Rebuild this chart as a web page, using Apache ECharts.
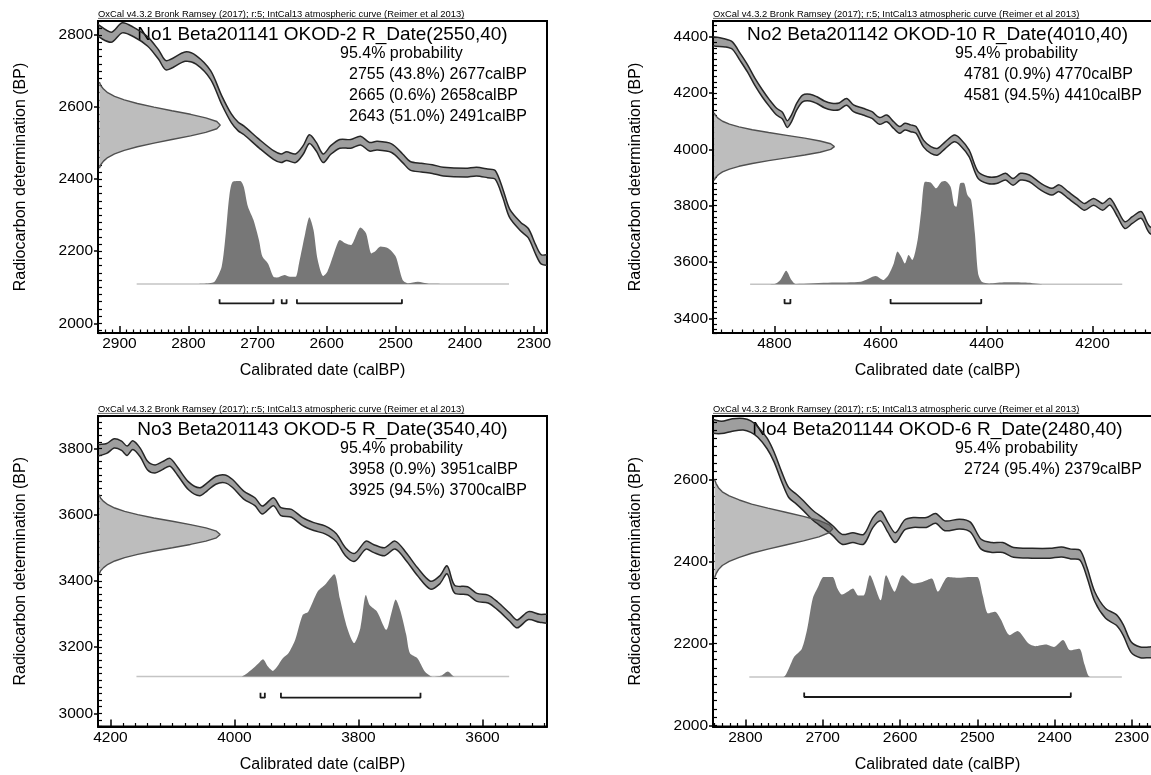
<!DOCTYPE html>
<html><head><meta charset="utf-8">
<script src="https://cdn.jsdelivr.net/npm/echarts@6/dist/echarts.min.js"></script>
<style>html,body{margin:0;padding:0;background:#fff}#main{width:1151px;height:775px}</style>
</head><body><div id="main"></div>
<script>
// ---------------- texts ----------------
const headerText = 'OxCal v4.3.2 Bronk Ramsey (2017); r:5; IntCal13 atmospheric curve (Reimer et al 2013)';
const titles = ['No1 Beta201141 OKOD-2 R_Date(2550,40)', 'No2 Beta201142 OKOD-10 R_Date(4010,40)',
                'No3 Beta201143 OKOD-5 R_Date(3540,40)', 'No4 Beta201144 OKOD-6 R_Date(2480,40)'];
const probLabel = '95.4% probability';
const xTitle = 'Calibrated date (calBP)';
const yTitle = 'Radiocarbon determination (BP)';

// ---------------- tick labels ----------------
const xTicks1 = [2300, 2400, 2500, 2600, 2700, 2800, 2900];
const yTicks1 = [2000, 2200, 2400, 2600, 2800];
const xTicks2 = [4200, 4400, 4600, 4800];
const yTicks2 = [3400, 3600, 3800, 4000, 4200, 4400];
const xTicks3 = [3600, 3800, 4000, 4200];
const yTicks3 = [3000, 3200, 3400, 3600, 3800];
const xTicks4 = [2300, 2400, 2500, 2600, 2700, 2800];
const yTicks4 = [2000, 2200, 2400, 2600];

// ---------------- panel 1 ----------------
const cal1 = [2936, 2912, 2896, 2880, 2859, 2843, 2832, 2805, 2789, 2768, 2752, 2738, 2728, 2720, 2698, 2677, 2666, 2658, 2645, 2634, 2625, 2615, 2605, 2594, 2581, 2565, 2551, 2538, 2527, 2506, 2490, 2479, 2463, 2447, 2431, 2399, 2383, 2367, 2356, 2345, 2335, 2319, 2308, 2297, 2289, 2276];
const c14_1 = [2820, 2794, 2820, 2809, 2782, 2745, 2716, 2740, 2731, 2689, 2620, 2569, 2546, 2536, 2499, 2467, 2458, 2464, 2458, 2481, 2511, 2490, 2458, 2481, 2498, 2498, 2507, 2490, 2493, 2486, 2458, 2437, 2432, 2428, 2421, 2418, 2421, 2416, 2412, 2361, 2305, 2268, 2250, 2203, 2177, 2177];
const sig1 = [14, 14, 14, 13, 13, 13, 13, 13, 12, 12, 12, 12, 12, 12, 12, 12, 12, 12, 12, 12, 12, 12, 12, 12, 12, 12, 12, 12, 12, 12, 12, 12, 12, 12, 12, 12, 12, 12, 12, 12, 12, 12, 13, 13, 13, 13];
const gBP1 = [2430, 2440, 2450, 2460, 2470, 2480, 2490, 2500, 2510, 2520, 2530, 2540, 2550, 2560, 2570, 2580, 2590, 2600, 2610, 2620, 2630, 2640, 2650, 2660, 2670];
const gCal1 = [2929, 2927, 2923, 2917, 2907, 2893, 2874, 2850, 2824, 2797, 2775, 2759, 2754, 2759, 2775, 2797, 2824, 2850, 2874, 2893, 2907, 2917, 2923, 2927, 2929];
const post1Cal = [2875, 2790, 2770, 2762, 2752, 2746, 2741, 2736, 2725, 2720, 2714, 2706, 2698, 2693, 2685, 2677, 2672, 2661, 2653, 2645, 2640, 2631, 2625, 2619, 2613, 2605, 2599, 2591, 2586, 2581, 2573, 2565, 2551, 2543, 2535, 2530, 2522, 2511, 2500, 2490, 2482, 2468, 2452, 2336];
const post1BP = [2109, 2109, 2111, 2116, 2157, 2250, 2351, 2393, 2395, 2379, 2324, 2287, 2231, 2185, 2166, 2129, 2127, 2134, 2129, 2129, 2166, 2250, 2294, 2259, 2176, 2131, 2143, 2185, 2213, 2231, 2222, 2217, 2266, 2250, 2194, 2199, 2213, 2208, 2185, 2120, 2111, 2115, 2110, 2109];
const base1 = [2875, 2336];
const baseBP1 = 2109;
const ranges1 = [[2755, 2677], [2665, 2658], [2643, 2491]];
const pct1 = ['43.8', '0.6', '51.0'];
const bracket1 = [2055, 2067];

// ---------------- panel 2 ----------------
const cal2 = [4920, 4893, 4879, 4865, 4851, 4837, 4823, 4809, 4796, 4785, 4776, 4768, 4758, 4747, 4733, 4720, 4706, 4692, 4678, 4664, 4651, 4633, 4616, 4602, 4588, 4575, 4564, 4554, 4543, 4533, 4519, 4505, 4492, 4478, 4461, 4450, 4433, 4416, 4398, 4381, 4364, 4350, 4336, 4319, 4298, 4277, 4263, 4246, 4229, 4215, 4198, 4181, 4167, 4153, 4139, 4125, 4108, 4092, 4065];
const c14_2 = [4385, 4378, 4368, 4329, 4288, 4240, 4199, 4163, 4134, 4120, 4090, 4110, 4152, 4181, 4184, 4175, 4160, 4152, 4153, 4169, 4146, 4134, 4122, 4101, 4110, 4086, 4069, 4081, 4075, 4069, 4021, 3998, 3992, 4015, 4039, 4027, 3986, 3909, 3891, 3891, 3903, 3885, 3903, 3897, 3868, 3850, 3862, 3838, 3814, 3796, 3814, 3796, 3814, 3773, 3731, 3749, 3767, 3714, 3700];
const sig2 = [14, 14, 13, 13, 13, 13, 13, 12, 12, 12, 12, 12, 12, 12, 12, 12, 12, 12, 12, 12, 12, 12, 12, 12, 12, 12, 12, 12, 12, 12, 12, 12, 12, 12, 12, 12, 12, 12, 12, 12, 12, 12, 12, 12, 12, 12, 12, 12, 12, 12, 12, 12, 12, 12, 12, 12, 12, 12, 12];
const gBP2 = [3890, 3900, 3910, 3920, 3930, 3940, 3950, 3960, 3970, 3980, 3990, 4000, 4010, 4020, 4030, 4040, 4050, 4060, 4070, 4080, 4090, 4100, 4110, 4120, 4130];
const gCal2 = [4914, 4911, 4906, 4898, 4885, 4867, 4842, 4811, 4777, 4743, 4714, 4694, 4687, 4694, 4714, 4743, 4777, 4811, 4842, 4867, 4885, 4898, 4906, 4911, 4914];
const post2Cal = [4846, 4800, 4789, 4778, 4768, 4760, 4692, 4637, 4609, 4595, 4585, 4575, 4568, 4561, 4554, 4547, 4540, 4530, 4523, 4516, 4505, 4495, 4485, 4478, 4468, 4461, 4457, 4450, 4443, 4436, 4429, 4422, 4416, 4409, 4395, 4364, 4326, 4290, 4144];
const post2BP = [3521, 3522, 3536, 3569, 3536, 3522, 3527, 3530, 3550, 3536, 3554, 3595, 3637, 3619, 3595, 3625, 3607, 3678, 3785, 3885, 3882, 3862, 3885, 3888, 3868, 3802, 3796, 3879, 3882, 3838, 3820, 3702, 3560, 3530, 3524, 3528, 3527, 3521, 3521];
const base2 = [4846, 4144];
const baseBP2 = 3521;
const ranges2 = [[4781, 4770], [4581, 4410]];
const pct2 = ['0.9', '94.5'];
const bracket2 = [3453, 3469];

// ---------------- panel 3 ----------------
const cal3 = [4224, 4206, 4194, 4182, 4173, 4164, 4152, 4140, 4128, 4116, 4104, 4092, 4074, 4056, 4044, 4030, 4015, 4003, 3985, 3967, 3955, 3937, 3925, 3908, 3890, 3872, 3854, 3836, 3821, 3806, 3788, 3776, 3758, 3741, 3723, 3705, 3684, 3669, 3657, 3645, 3624, 3609, 3591, 3576, 3556, 3544, 3526, 3508, 3490];
const c14_3 = [3793, 3800, 3815, 3808, 3793, 3810, 3788, 3748, 3738, 3748, 3758, 3732, 3687, 3669, 3684, 3704, 3708, 3694, 3659, 3639, 3614, 3639, 3609, 3604, 3579, 3564, 3554, 3531, 3488, 3471, 3508, 3498, 3488, 3508, 3473, 3428, 3387, 3403, 3433, 3375, 3370, 3350, 3345, 3325, 3290, 3270, 3295, 3287, 3285];
const sig3 = [15, 15, 14, 14, 14, 13, 13, 13, 12, 12, 12, 12, 12, 12, 12, 12, 12, 12, 12, 12, 12, 12, 12, 12, 12, 12, 12, 12, 12, 12, 12, 12, 12, 12, 12, 12, 12, 12, 12, 12, 12, 12, 12, 12, 12, 12, 12, 12, 12];
const gBP3 = [3420, 3430, 3440, 3450, 3460, 3470, 3480, 3490, 3500, 3510, 3520, 3530, 3540, 3550, 3560, 3570, 3580, 3590, 3600, 3610, 3620, 3630, 3640, 3650, 3660];
const gCal3 = [4218, 4216, 4211, 4204, 4193, 4177, 4156, 4130, 4100, 4071, 4046, 4029, 4023, 4029, 4046, 4071, 4100, 4130, 4156, 4177, 4193, 4204, 4211, 4216, 4218];
const post3Cal = [4158, 3990, 3973, 3961, 3954, 3946, 3938, 3931, 3922, 3913, 3902, 3890, 3881, 3866, 3854, 3839, 3830, 3818, 3807, 3797, 3788, 3782, 3770, 3755, 3747, 3740, 3732, 3723, 3717, 3705, 3693, 3681, 3666, 3656, 3645, 3557];
const post3BP = [3111, 3111, 3131, 3151, 3163, 3141, 3128, 3141, 3166, 3181, 3222, 3297, 3307, 3367, 3388, 3420, 3347, 3257, 3212, 3257, 3357, 3327, 3307, 3252, 3302, 3344, 3307, 3237, 3181, 3166, 3126, 3111, 3114, 3126, 3111, 3111];
const base3 = [4158, 3557];
const baseBP3 = 3111;
const ranges3 = [[3958, 3951], [3925, 3700]];
const pct3 = ['0.9', '94.5'];
const bracket3 = [3047, 3062];

// ---------------- panel 4 ----------------
const cal4 = [2846, 2831, 2817, 2803, 2793, 2784, 2772, 2763, 2753, 2744, 2734, 2725, 2713, 2699, 2687, 2675, 2661, 2647, 2635, 2625, 2616, 2606, 2594, 2583, 2566, 2554, 2542, 2523, 2509, 2495, 2481, 2467, 2453, 2429, 2406, 2391, 2379, 2367, 2358, 2348, 2334, 2320, 2311, 2301, 2289, 2278, 2260];
const c14_4 = [2731, 2727, 2733, 2735, 2729, 2716, 2688, 2655, 2606, 2568, 2552, 2536, 2513, 2493, 2475, 2454, 2458, 2454, 2495, 2511, 2484, 2458, 2489, 2495, 2495, 2505, 2487, 2491, 2484, 2442, 2434, 2434, 2422, 2420, 2420, 2423, 2418, 2415, 2373, 2314, 2273, 2257, 2232, 2191, 2178, 2178, 2180];
const sig4 = [15, 15, 15, 14, 14, 13, 13, 12, 12, 12, 12, 12, 12, 12, 12, 12, 12, 12, 12, 12, 12, 12, 12, 12, 12, 12, 12, 12, 12, 12, 12, 12, 12, 12, 12, 12, 12, 12, 12, 12, 12, 13, 13, 13, 13, 13, 13];
const gBP4 = [2360, 2370, 2380, 2390, 2400, 2410, 2420, 2430, 2440, 2450, 2460, 2470, 2480, 2490, 2500, 2510, 2520, 2530, 2540, 2550, 2560, 2570, 2580, 2590, 2600];
const gCal4 = [2840, 2838, 2835, 2830, 2821, 2808, 2792, 2771, 2748, 2725, 2705, 2692, 2687, 2692, 2705, 2725, 2748, 2771, 2792, 2808, 2821, 2830, 2835, 2838, 2840];
const post4Cal = [2795, 2751, 2744, 2737, 2727, 2720, 2713, 2706, 2699, 2692, 2687, 2681, 2675, 2668, 2661, 2654, 2647, 2639, 2625, 2618, 2607, 2597, 2583, 2571, 2559, 2551, 2538, 2524, 2512, 2500, 2493, 2486, 2477, 2470, 2458, 2448, 2434, 2425, 2411, 2401, 2389, 2380, 2368, 2361, 2354, 2313];
const post4BP = [2118, 2118, 2138, 2167, 2187, 2236, 2309, 2338, 2362, 2362, 2362, 2334, 2319, 2326, 2334, 2317, 2317, 2366, 2305, 2366, 2326, 2366, 2346, 2350, 2358, 2326, 2362, 2360, 2362, 2362, 2317, 2273, 2277, 2260, 2220, 2230, 2200, 2193, 2197, 2191, 2208, 2183, 2187, 2147, 2118, 2118];
const base4 = [2795, 2313];
const baseBP4 = 2118;
const ranges4 = [[2724, 2379]];
const pct4 = ['95.4'];
const bracket4 = [2069, 2080];

// ---------------- layout (positions / sizes) ----------------
const FONT = '"Liberation Sans", Arial, Helvetica, sans-serif';
const W = 449;
const HEADER_SIZE = 9.4;
const TICK_SIZE = 15.5;
const panels = [
  {left: 98,  top: 21,  height: 312,   x: [2281, 2931], xStep: 100, y: [1973, 2839], xTicks: xTicks1, yTicks: yTicks1,
   cal: cal1, c14: c14_1, sig: sig1, gBP: gBP1, gCal: gCal1, pCal: post1Cal, pBP: post1BP, base: base1, baseBP: baseBP1, ranges: ranges1, pct: pct1, br: bracket1, title: titles[0]},
  {left: 713, top: 21,  height: 312,   x: [4069, 4916], xStep: 200, y: [3348, 4456], xTicks: xTicks2, yTicks: yTicks2,
   cal: cal2, c14: c14_2, sig: sig2, gBP: gBP2, gCal: gCal2, pCal: post2Cal, pBP: post2BP, base: base2, baseBP: baseBP2, ranges: ranges2, pct: pct2, br: bracket2, title: titles[1]},
  {left: 98,  top: 416, height: 310.5, x: [3496, 4220], xStep: 200, y: [2960, 3898], xTicks: xTicks3, yTicks: yTicks3,
   cal: cal3, c14: c14_3, sig: sig3, gBP: gBP3, gCal: gCal3, pCal: post3Cal, pBP: post3BP, base: base3, baseBP: baseBP3, ranges: ranges3, pct: pct3, br: bracket3, title: titles[2]},
  {left: 713, top: 416, height: 310.5, x: [2261, 2842], xStep: 100, y: [1997, 2755], xTicks: xTicks4, yTicks: yTicks4,
   cal: cal4, c14: c14_4, sig: sig4, gBP: gBP4, gCal: gCal4, pCal: post4Cal, pBP: post4BP, base: base4, baseBP: baseBP4, ranges: ranges4, pct: pct4, br: bracket4, title: titles[3]}
];

const mctx = document.createElement('canvas').getContext('2d');
mctx.font = HEADER_SIZE + 'px "Liberation Sans"';
const headerW = mctx.measureText(headerText).width;

const grids = [], xAxes = [], yAxes = [], series = [], graphics = [];
const txt = (x, y, text, size, align, valign, extra) => Object.assign({
  type: 'text', x, y, silent: true,
  style: {text, fontSize: size, fontFamily: FONT, fill: '#000', align, verticalAlign: valign}
}, extra || {});

panels.forEach((p, i) => {
  grids.push({left: p.left, top: p.top, width: W, height: p.height, show: true, borderColor: '#000', borderWidth: 2,
    backgroundColor: 'transparent', containLabel: false, outerBoundsMode: 'none'});
  xAxes.push({type: 'value', gridIndex: i, min: p.x[0], max: p.x[1], inverse: true,
    minInterval: p.xStep, maxInterval: p.xStep, splitLine: {show: false},
    axisLine: {onZero: false, lineStyle: {color: '#000', width: 2}},
    axisTick: {inside: true, length: 7, customValues: p.xTicks, lineStyle: {color: '#000', width: 1.5}},
    minorTick: {show: true, splitNumber: 10, length: 3.5, lineStyle: {color: '#000', width: 1.2}},
    axisLabel: {customValues: p.xTicks, formatter: v => String(v), fontSize: TICK_SIZE, fontFamily: FONT, color: '#000', margin: 3}
  });
  yAxes.push({type: 'value', gridIndex: i, position: 'left', min: p.y[0], max: p.y[1], splitLine: {show: false},
    axisLine: {onZero: false, lineStyle: {color: '#000', width: 2}},
    axisTick: {inside: false, length: 4, customValues: p.yTicks, lineStyle: {color: '#000', width: 1.5}},
    axisLabel: {customValues: p.yTicks, formatter: v => String(v), fontSize: TICK_SIZE, fontFamily: FONT, color: '#000', margin: 5}
  });
  yAxes.push({type: 'value', gridIndex: i, position: 'left', min: p.y[0], max: p.y[1],
    minInterval: 20, maxInterval: 20, splitLine: {show: false},
    axisLine: {show: false}, axisLabel: {show: false},
    axisTick: {inside: true, length: 4, lineStyle: {color: '#000', width: 1.2}}
  });
  const yi = 2 * i;
  const common = {xAxisIndex: i, yAxisIndex: yi, silent: true, animation: false};
  // baseline of the calibrated distribution
  series.push(Object.assign({type: 'line', symbol: 'none', z: 2,
    data: p.base.map(c => [c, p.baseBP]), lineStyle: {color: '#c4c4c4', width: 1.5}}, common));
  // calibrated probability distribution
  series.push(Object.assign({type: 'line', symbol: 'none', z: 3, smooth: 0.25,
    data: p.pCal.map((c, k) => [c, p.pBP[k]]), lineStyle: {width: 0, color: '#777'},
    areaStyle: {color: '#777777', opacity: 1, origin: p.baseBP}}, common));
  // 95.4% range brackets
  p.ranges.forEach(r => series.push(Object.assign({type: 'line', symbol: 'none', z: 3,
    data: [[r[0], p.br[1]], [r[0], p.br[0]], [r[1], p.br[0]], [r[1], p.br[1]]],
    lineStyle: {color: '#1a1a1a', width: 1.8}}, common)));
  // radiocarbon date distribution (fill)
  const gPts = p.gCal.map((c, k) => [c, p.gBP[k]]);
  series.push(Object.assign({type: 'custom', z: 4, clip: true, data: [gPts[0]],
    renderItem: (params, api) => ({type: 'polygon', shape: {points: gPts.map(q => api.coord(q))},
      style: {fill: '#bdbdbd', stroke: null}})}, common));
  // calibration curve band
  const up = p.cal.map((c, k) => [c, p.c14[k] + p.sig[k]]);
  const lo = p.cal.map((c, k) => [c, p.c14[k] - p.sig[k]]).reverse();
  const band = up.concat(lo);
  series.push(Object.assign({type: 'custom', z: 5, clip: true, data: [band[0]],
    renderItem: (params, api) => ({type: 'polygon', shape: {points: band.map(q => api.coord(q)), smooth: 0.3},
      style: {fill: 'rgba(0,0,0,0.38)', stroke: '#262626', lineWidth: 1.5}})}, common));
  // radiocarbon date distribution (outline)
  series.push(Object.assign({type: 'line', symbol: 'none', z: 6, data: gPts,
    lineStyle: {color: '#505050', width: 1.4}}, common));

  // texts
  const cx = p.left + W / 2;
  const bottom = p.top + p.height;
  graphics.push(txt(p.left, p.top - 1.8, headerText, HEADER_SIZE, 'left', 'bottom'));
  graphics.push({type: 'line', silent: true, shape: {x1: p.left, y1: p.top - 2.6, x2: p.left + headerW, y2: p.top - 2.6},
    style: {stroke: '#000', lineWidth: 0.6}});
  graphics.push(txt(cx, p.top + 13.5, p.title, 19, 'center', 'middle'));
  graphics.push(txt(p.left + 242, p.top + 32.3, probLabel, 16, 'left', 'middle'));
  p.ranges.forEach((r, k) => graphics.push(
    txt(p.left + 251, p.top + 53.8 + 21 * k, r[0] + ' (' + p.pct[k] + '%) ' + r[1] + 'calBP', 16, 'left', 'middle')));
  graphics.push(txt(p.left - 77, p.top + p.height / 2, yTitle, 16, 'center', 'middle', {rotation: Math.PI / 2}));
  graphics.push(txt(cx, bottom + 38, xTitle, 16, 'center', 'middle'));
});

const chart = echarts.init(document.getElementById('main'), null, {renderer: 'canvas', width: 1151, height: 775});
chart.setOption({
  animation: false,
  backgroundColor: '#ffffff',
  textStyle: {fontFamily: FONT},
  grid: grids, xAxis: xAxes, yAxis: yAxes, series: series, graphic: graphics
});
</script>
</body></html>
